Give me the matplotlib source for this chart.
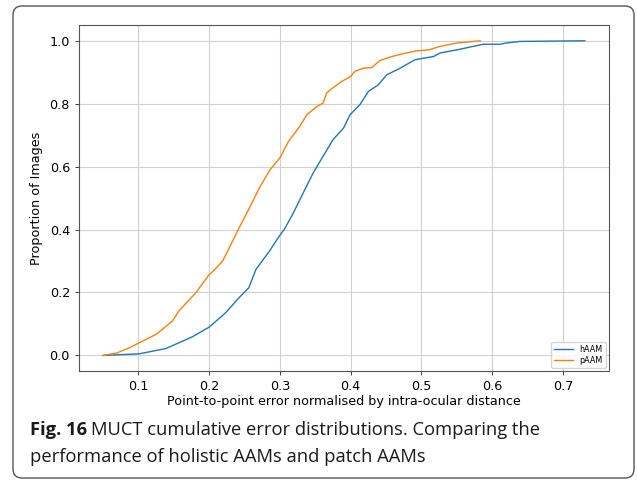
import matplotlib.pyplot as plt
from matplotlib.patches import FancyBboxPatch

plt.rcParams['font.family'] = ['DejaVu Sans']

# cumulative error curves, read as (error, proportion) pairs
haam_err = [0.050, 0.101, 0.139, 0.176, 0.200, 0.223, 0.242, 0.256, 0.266, 0.285,
            0.299, 0.306, 0.319, 0.333, 0.347, 0.361, 0.375, 0.390, 0.399, 0.413,
            0.425, 0.439, 0.451, 0.470, 0.491, 0.517, 0.526, 0.554, 0.587, 0.611,
            0.620, 0.639, 0.731]
haam_prop = [0.000, 0.005, 0.022, 0.059, 0.090, 0.135, 0.183, 0.215, 0.273, 0.331,
             0.379, 0.400, 0.453, 0.517, 0.580, 0.633, 0.686, 0.723, 0.765, 0.797,
             0.839, 0.860, 0.892, 0.913, 0.940, 0.950, 0.961, 0.973, 0.989, 0.989,
             0.993, 0.998, 1.000]

paam_err = [0.050, 0.070, 0.087, 0.101, 0.125, 0.148, 0.157, 0.181, 0.200, 0.208,
            0.219, 0.233, 0.241, 0.258, 0.272, 0.286, 0.300, 0.312, 0.328, 0.338,
            0.352, 0.361, 0.366, 0.371, 0.386, 0.400, 0.406, 0.418, 0.430, 0.441,
            0.455, 0.474, 0.493, 0.510, 0.526, 0.550, 0.583]
paam_prop = [0.000, 0.008, 0.024, 0.040, 0.067, 0.109, 0.141, 0.199, 0.257, 0.273,
             0.300, 0.363, 0.400, 0.474, 0.537, 0.590, 0.628, 0.680, 0.728, 0.765,
             0.791, 0.802, 0.834, 0.844, 0.869, 0.887, 0.903, 0.913, 0.915, 0.937,
             0.948, 0.959, 0.968, 0.971, 0.982, 0.993, 1.000]

fig = plt.figure(figsize=(6.37, 4.82), dpi=100)
ax = fig.add_axes([0.124, 0.230, 0.832, 0.718])

ax.plot(haam_err, haam_prop, color='tab:blue', lw=1.0, label='hAAM')
ax.plot(paam_err, paam_prop, color='tab:orange', lw=1.0, label='pAAM')

ax.grid(True, color='#d0d0d0', lw=0.8)
ax.set_axisbelow(True)
ax.set_yticks([0.0, 0.2, 0.4, 0.6, 0.8, 1.0])
ax.set_xticks([0.1, 0.2, 0.3, 0.4, 0.5, 0.6, 0.7])
ax.tick_params(labelsize=9.2, color='#444444', width=0.7, length=3)
for s in ax.spines.values():
    s.set_color('#555555')
    s.set_linewidth(0.8)
ax.set_xlabel('Point-to-point error normalised by intra-ocular distance', fontsize=9.2, labelpad=1)
ax.set_ylabel('Proportion of Images', fontsize=9.2, labelpad=5)
ax.legend(loc='lower right', fontsize=5.8, handlelength=2.4, borderpad=0.35,
          labelspacing=0.3, borderaxespad=0.4)

# rounded frame around the whole figure
frame = FancyBboxPatch((0.13, 0.04), 6.21, 4.72, boxstyle='round,pad=0,rounding_size=0.09',
                       transform=fig.dpi_scale_trans, fill=False, edgecolor='#555555', lw=1.0)
fig.patches.append(frame)

# caption: bold figure number followed by regular text
cap_font = 'Open Sans'
cap_size = 13.2
r = fig.canvas.get_renderer()
t = fig.text(30 / 637, 1 - 435 / 482, 'Fig. 16', fontsize=cap_size, fontweight='bold',
             family=cap_font, color='#1a1a1a', va='baseline')
w = t.get_window_extent(renderer=r).width
fig.text((30 + w + 4) / 637, 1 - 435 / 482, 'MUCT cumulative error distributions. Comparing the',
         fontsize=cap_size, family=cap_font, color='#1a1a1a', va='baseline')
fig.text(30 / 637, 1 - 462 / 482, 'performance of holistic AAMs and patch AAMs',
         fontsize=cap_size, family=cap_font, color='#1a1a1a', va='baseline')

fig.savefig('out.png', dpi=100)
